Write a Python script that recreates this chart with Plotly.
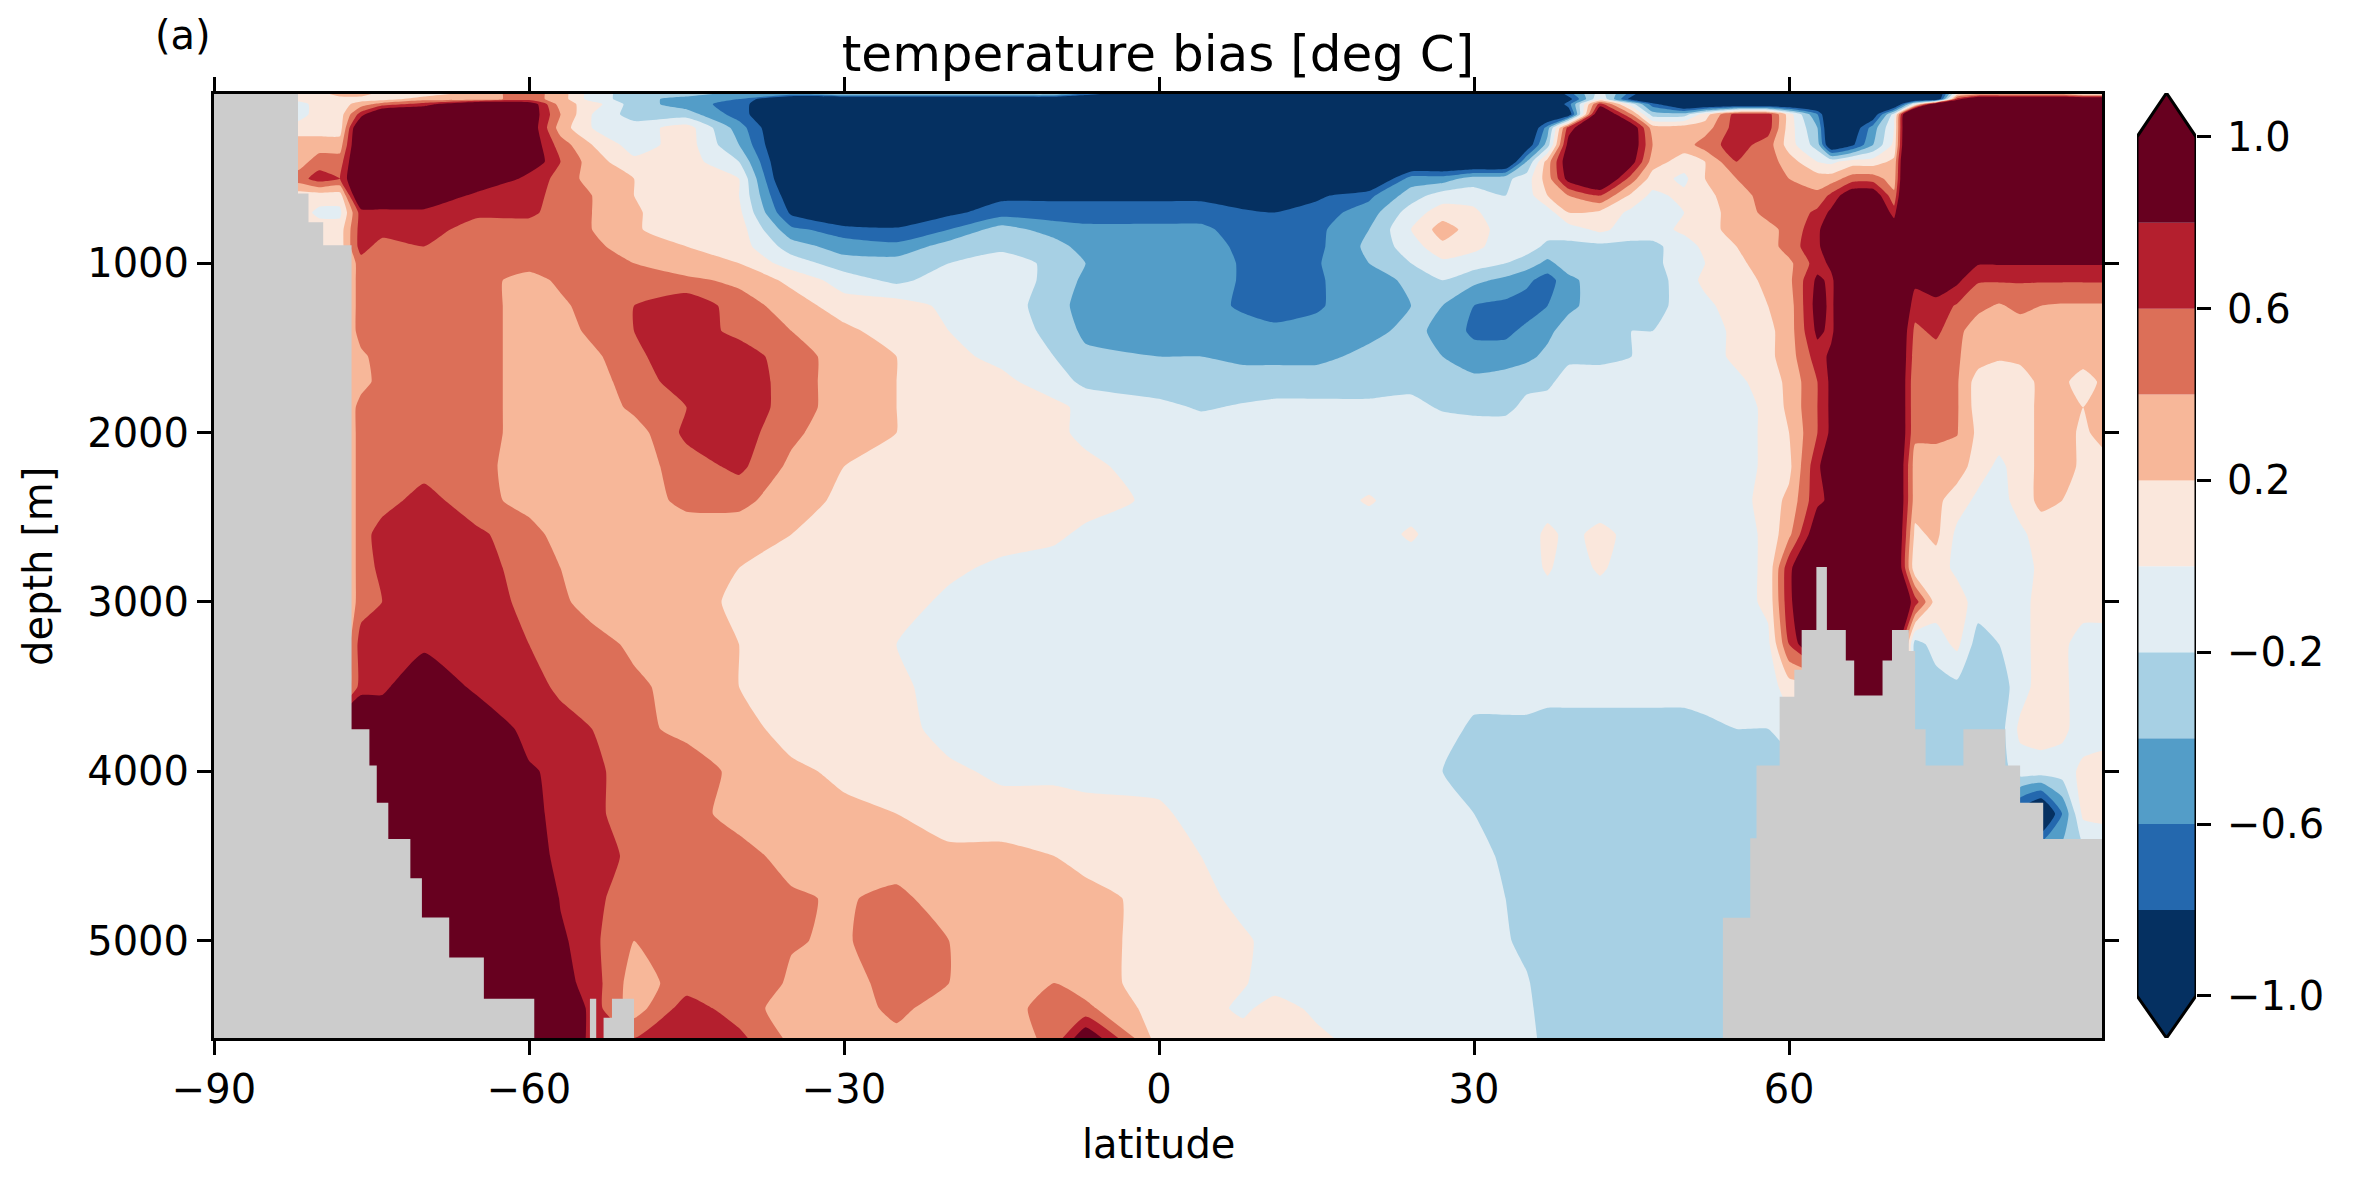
import plotly.graph_objects as go

# values: rows are depths, columns are latitudes
latitudes = [-90, -82, -80, -78, -76, -74, -70,
             -65, -60, -57, -54, -50,
             -45, -40, -35, -30, -25,
             -20, -15, -10, -7, 0,
             4, 8, 11, 15, 20,
             24, 27, 30, 33, 35,
             37, 39, 42, 45, 47,
             50, 52, 55, 58, 60,
             62.7, 64, 66, 68, 70,
             72, 74, 76, 78, 80,
             82, 84, 86, 88, 90]

depths = [0, 30, 60, 120, 200, 300, 400, 500, 600, 700, 800, 900, 1000, 1100, 1250, 1400, 1550, 1700,
          1850, 2000, 2200, 2400, 2600, 2800, 3000, 3250, 3500, 3750, 4000, 4250, 4500, 4750, 5000, 5250, 5400, 5575]

bias = [
    # 0 m
    [.1, .1, .1, .3, .3, .1, .1, .3, .5, .3, -.1, -.3, -.3, -.5, -.5, -.3, -.3, -.3, -.3, -.3, -.7, -1.2,
     -1.2, -1.2, -1.2, -1.2, -1.2, -1.2, -1.2, -1.2, -1.2, -1.2, -1.2, -.7, -.1, -.7, -1.2,
     -1.2, -1.2, -1.2, -1.2, -1.2, -1.2, -1.2, -1.2, -1.2, -1.2, -1.2, -1.2, .1, .3, .3, .3, .3, .3, .1, .1],
    # 30 m
    [.1, .1, .1, .1, .1, .1, .3, .3, .5, .3, -.1, -.3, -.5, -.6, -1.2, -1.2, -1.2, -1.2, -1.2, -1.2, -1.2, -1.2,
     -1.2, -1.2, -1.2, -1.2, -1.2, -1.2, -1.2, -1.2, -1.2, -1.2, -1.2, -.9, 0, -.9, -1.2,
     -1.2, -1.2, -1.2, -1.2, -1.2, -1.2, -1.2, -1.2, -1.2, -1.2, -1.2, -1.2, .7, 1.2, 1.2, 1.2, 1.2, 1.2, 1.2, 1.2],
    # 60 m
    [.1, -.1, .1, .1, .3, .5, .7, 1.2, 1.0, .3, .1, -.3, -.5, -.7, -1.2, -1.2, -1.2, -1.2, -1.2, -1.2, -1.2, -1.2,
     -1.2, -1.2, -1.2, -1.2, -1.2, -1.2, -1.2, -1.2, -1.2, -1.2, -1.2, -.7, .7, -.1, -.7,
     -1.2, -1.2, -1.2, -1.2, -1.2, -1.2, -1.2, -1.2, -1.2, -1.2, 0, 1.2, 1.2, 1.2, 1.2, 1.2, 1.2, 1.2, 1.2, 1.2],
    # 120 m
    [.1, -.1, .1, .1, .7, 1.2, 1.2, 1.2, 1.0, .4, 0, -.3, -.3, -.7, -1.2, -1.2, -1.2, -1.2, -1.2, -1.2, -1.2, -1.2,
     -1.2, -1.2, -1.2, -1.2, -1.2, -1.2, -1.2, -1.2, -1.2, -1.2, -1.2, -1.0, 1.2, .4, -.3,
     -.3, .1, .7, .7, .1, -.6, -1.2, -1.2, -1.0, -.1, 2.0, 1.2, 1.2, 1.2, 1.2, 1.2, 1.2, 1.2, 1.2, 1.2],
    # 200 m
    [.1, .1, .1, .1, 1.2, 1.2, 1.2, 1.2, 1.0, .3, 0, -.1, .1, -.5, -1.2, -1.2, -1.2, -1.2, -1.2, -1.2, -1.2, -1.2,
     -1.2, -1.2, -1.2, -1.2, -1.2, -1.2, -1.2, -1.2, -1.2, -1.2, -.5, .7, 1.2, 1.0, .3,
     .3, .3, .7, .7, .1, -.4, -1.2, -1.0, -.5, 0, 2.0, 1.2, 1.2, 1.2, 1.2, 1.2, 1.2, 1.2, 1.2, 1.2],
    # 300 m
    [.3, .3, .3, .3, 1.2, 1.2, 1.2, 1.2, 1.0, .5, .2, -.1, .1, -.4, -1.2, -1.2, -1.2, -1.2, -1.2, -1.2, -1.2, -1.2,
     -1.2, -1.2, -1.2, -1.2, -1.2, -1.2, -1.2, -1.2, -1.2, -1.0, -.3, .9, 1.2, 1.0, .4,
     .3, .5, .7, .5, .1, -.3, -1.1, -.85, -.4, .05, 2.0, 1.2, 1.2, 1.2, 1.2, 1.2, 1.2, 1.2, 1.2, 1.2],
    # 400 m
    [.3, .3, .5, .5, 1.2, 1.2, 1.2, 1.2, 1.0, .6, .3, .05, .1, -.2, -1.2, -1.2, -1.2, -1.2, -1.2, -1.2, -1.2, -1.2,
     -1.2, -1.2, -1.2, -1.2, -1.2, -1.2, -1.2, -1.2, -1.2, -.4, .3, 1.0, 1.2, .9, .3,
     .1, .2, .6, .5, .3, 0, -.05, .1, .1, .25, 2.0, 1.2, 1.2, 1.2, 1.2, 1.2, 1.2, 1.2, 1.2, 1.2],
    # 500 m
    [.5, .5, .7, .6, 1.2, 1.2, 1.2, 1.2, .7, .55, .3, .2, .1, 0, -1.2, -1.2, -1.2, -1.2, -1.2, -1.2, -1.2, -1.2,
     -1.2, -1.2, -1.2, -1.2, -1.2, -.5, -.5, -.3, -.25, -.1, .3, .9, 1.2, .5, .1,
     -.05, .2, .4, .5, .4, .3, .3, .5, .5, .3, 2.0, 1.2, 1.2, 1.2, 1.2, 1.2, 1.2, 1.2, 1.2, 1.2],
    # 600 m
    [.1, .1, .1, .1, 1.2, 1.2, 1.2, .7, .7, .5, .4, .2, .1, 0, -1.0, -1.2, -1.2, -1.2, -.85, -.85, -.85, -.85,
     -.85, -1.0, -1.2, -.85, -.65, -.3, -.1, -.1, -.2, -.1, .2, .4, .6, .15, -.05,
     .05, .15, .3, .5, .5, .45, .65, 1.0, 1.0, .45, 2.0, 1.2, 1.2, 1.2, 1.2, 1.2, 1.2, 1.2, 1.2, 1.2],
    # 700 m
    [.1, .1, -.05, -.05, .7, .7, .7, .65, .65, .5, .4, .22, .1, .05, -.85, -1.2, -1.2, -.85, -.7, -.7, -.7, -.7,
     -.7, -.75, -.8, -.7, -.5, -.1, .1, .05, -.2, -.1, -.1, .2, .15, -.05, -.1,
     0, .1, .3, .45, .45, .65, .85, 1.2, 1.2, .7, 2.0, 1.2, 1.2, 1.2, 1.2, 1.2, 1.2, 1.2, 1.2, 1.2],
    # 800 m
    [.1, .1, .1, .1, .7, .7, .7, .5, .5, .5, .4, .22, .1, .1, -.55, -.7, -.75, -.6, -.3, -.5, -.55, -.55,
     -.55, -.7, -.7, -.65, -.4, 0, .3, .1, -.1, -.1, -.1, -.1, .05, -.1, -.1,
     .05, .15, .25, .35, .45, .75, 1.0, 1.2, 1.2, 1.0, 1.2, 1.2, 1.2, 1.2, 1.2, 1.2, 1.2, 1.2, 1.2, 1.2],
    # 900 m
    [.1, .1, .1, .1, .7, .5, .6, .5, .5, .5, .45, .3, .2, .1, -.3, -.5, -.55, -.3, -.25, -.3, -.5, -.5,
     -.5, -.65, -.7, -.65, -.35, -.1, .15, .05, -.1, -.1, -.25, -.25, -.25, -.25, -.25,
     -.1, .05, .2, .3, .5, .75, 1.0, 1.2, 1.2, 1.2, 1.2, 1.2, 1.2, 1.2, 1.2, 1.2, 1.2, 1.2, 1.2, 1.2],
    # 1000 m
    [.1, .1, .1, .1, .5, .5, .5, .5, .5, .5, .45, .4, .25, .2, -.1, -.3, -.3, -.2, -.1, -.25, -.4, -.5,
     -.5, -.62, -.7, -.62, -.4, -.2, -.05, -.1, -.2, -.3, -.45, -.3, -.3, -.3, -.25,
     -.1, 0, .15, .3, .35, .7, .85, 1.2, 1.2, 1.2, 1.2, 1.2, 1.2, .82, .82, .82, .82, .82, .82, .82],
    # 1100 m
    [.1, .1, .1, .1, .5, .5, .5, .5, .3, .45, .5, .5, .45, .35, .15, -.1, -.25, -.1, -.1, -.25, -.45, -.5,
     -.5, -.62, -.7, -.62, -.5, -.35, -.2, -.35, -.45, -.55, -.7, -.45, -.3, -.3, -.3,
     -.1, .05, .1, .25, .35, .85, .75, 1.2, 1.2, 1.2, .85, 1.0, .85, .62, .62, .62, .62, .62, .62, .62],
    # 1250 m
    [.1, .1, .1, .1, .5, .5, .5, .5, .3, .35, .5, .6, .75, .5, .3, .1, .1, -.05, -.1, -.3, -.5, -.55,
     -.55, -.62, -.7, -.62, -.5, -.4, -.4, -.6, -.65, -.7, -.6, -.45, -.3, -.3, -.3,
     -.1, -.05, .1, .2, .3, .9, .75, 1.2, 1.2, 1.2, .7, .7, .58, .45, .38, .45, .4, .38, .38, .38],
    # 1400 m
    [.1, .1, .1, .1, .5, .5, .5, .5, .3, .3, .45, .6, .7, .55, .4, .25, .1, 0, -.1, -.25, -.45, -.5,
     -.55, -.55, -.55, -.55, -.45, -.35, -.45, -.65, -.65, -.55, -.45, -.3, -.3, -.2, -.2,
     -.1, -.1, .05, .15, .3, .85, .75, 1.2, 1.2, 1.2, .55, .65, .45, .3, .3, .3, .3, .3, .3, .3],
    # 1550 m
    [.1, .1, .1, .1, .35, .5, .5, .5, .3, .25, .35, .55, .75, .7, .5, .3, .2, .05, -.05, -.2, -.35, -.4,
     -.4, -.45, -.45, -.45, -.35, -.3, -.4, -.5, -.5, -.45, -.35, -.25, -.25, -.2, -.1,
     -.05, -.1, .05, .15, .3, .7, .85, 1.2, 1.2, 1.2, .5, .5, .42, .3, .22, .25, .3, .3, .3, .3],
    # 1700 m
    [.1, .1, .1, .1, .3, .5, .5, .5, .3, .25, .3, .5, .7, .75, .5, .3, .2, .1, .05, -.1, -.25, -.3,
     -.3, -.3, -.3, -.3, -.3, -.25, -.3, -.35, -.3, -.25, -.25, -.1, -.1, -.1, -.1,
     -.1, -.1, -.05, .1, .25, .6, .85, 1.2, 1.2, 1.2, .45, .5, .42, .1, .1, .1, .25, .25, .1, .25],
    # 1850 m
    [.1, .1, .1, .1, .5, .5, .5, .5, .3, .25, .25, .45, .6, .75, .5, .3, .2, .1, .1, .05, -.05, -.15,
     -.22, -.18, -.15, -.15, -.15, -.15, -.22, -.25, -.25, -.15, -.1, -.1, -.1, -.1, -.1,
     -.1, -.1, -.1, .05, .25, .6, .85, 1.2, 1.2, 1.2, .45, .45, .42, .1, .05, .1, .25, .2, .2, .25],
    # 2000 m
    [.1, .1, .1, .1, .5, .5, .5, .5, .3, .3, .25, .3, .65, .7, .45, .25, .2, .1, .1, .05, -.05, -.1,
     -.1, -.1, -.1, -.1, -.1, -.1, -.1, -.1, -.1, -.1, -.1, -.1, -.1, -.1, -.1,
     -.1, -.1, -.1, .05, .2, .6, .85, 1.2, 1.2, 1.2, .45, .45, .41, .15, .1, .1, .25, .3, .15, .3],
    # 2200 m
    [.1, .1, .1, .1, .5, .5, .5, .5, .25, .3, .3, .3, .5, .65, .35, .2, .1, .1, .1, .05, .05, -.1,
     -.1, -.1, -.1, -.1, -.1, -.1, -.1, -.1, -.1, -.1, -.1, -.1, -.1, -.1, -.1,
     -.1, -.1, -.1, .05, .15, .75, 1.0, 1.2, 1.2, 1.2, .3, .3, .3, .1, -.05, .1, .25, .3, .15, .1],
    # 2400 m
    [.1, .1, .1, .1, .5, .5, .7, .45, .35, .3, .3, .3, .45, .45, .3, .15, .1, .1, .1, .1, .1, -.05,
     -.1, -.1, -.1, -.1, .02, -.1, -.1, -.1, -.1, -.1, -.1, -.1, -.1, -.1, -.1,
     -.1, -.1, -.1, .1, .25, .75, .85, 1.2, 1.2, 1.2, .3, .25, .1, -.05, -.1, .1, .25, .2, .1, .1],
    # 2600 m
    [.1, .1, .1, .1, .5, .7, .7, .65, .45, .35, .3, .3, .3, .3, .2, .1, .1, .1, .1, .05, -.05, -.1,
     -.1, -.1, -.1, -.1, -.1, .03, -.1, -.1, -.1, -.1, .05, -.05, .05, -.05, -.1,
     -.1, -.1, -.1, .05, .35, 1.0, .9, 1.2, 1.2, 1.2, .15, .25, -.05, -.1, -.1, -.05, .1, .1, .1, .1],
    # 2800 m
    [.1, .1, .1, .1, .5, .65, .7, .7, .5, .4, .3, .3, .3, .2, .1, .1, .1, .05, -.05, -.1, -.1, -.1,
     -.1, -.1, -.1, -.1, -.1, -.1, -.1, -.1, -.1, -.1, .03, -.1, .03, -.1, -.1,
     -.1, -.1, -.1, .05, .75, 1.2, 1.2, 1.2, 1.2, 1.2, .05, .1, -.05, -.1, -.1, -.1, .05, .1, .1, .1],
    # 3000 m
    [.1, .1, .1, .1, .5, .6, .7, .7, .55, .45, .3, .3, .3, .15, .1, .1, .1, -.05, -.1, -.1, -.1, -.1,
     -.1, -.1, -.1, -.1, -.1, -.1, -.1, -.1, -.1, -.1, -.1, -.1, -.1, -.1, -.1,
     -.1, -.1, -.1, .05, .75, 1.2, 1.2, 1.2, 1.2, 1.2, .7, .1, .1, -.1, -.1, -.1, .1, .1, .1, .1],
    # 3250 m
    [.1, .1, .1, .1, .7, .7, .7, .7, .6, .5, .5, .35, .3, .2, .1, .1, 0, -.1, -.1, -.1, -.1, -.1,
     -.1, -.1, -.1, -.1, -.1, -.1, -.1, -.1, -.1, -.1, -.1, -.1, -.1, -.1, -.1,
     -.1, -.1, -.1, -.05, .6, 1.2, 1.2, 1.2, 1.2, 1.2, -.3, -.1, .05, -.3, -.2, -.1, .1, .05, -.1, -.1],
    # 3500 m
    [.1, .1, .1, .1, .7, .7, 1.2, .7, .7, .55, .5, .45, .3, .2, .1, .1, .05, -.1, -.1, -.1, -.1, -.1,
     -.1, -.1, -.1, -.1, -.1, -.1, -.1, -.1, -.1, -.1, -.1, -.1, -.1, -.1, -.1,
     -.1, -.1, -.1, -.1, .1, .1, 1.2, 1.2, 1.2, 1.2, -.3, -.3, -.25, -.3, -.3, -.1, .1, .05, -.1, -.1],
    # 3750 m
    [1.2, 1.2, 1.2, 1.2, 1.2, 1.2, 1.2, 1.2, .65, .7, .6, .45, .35, .3, .1, .1, .1, -.1, -.1, -.1, -.1, -.1,
     -.1, -.1, -.1, -.1, -.1, -.1, -.1, -.25, -.25, -.25, -.3, -.3, -.3, -.3, -.3,
     -.3, -.25, -.2, -.2, -.1, -.1, 1.0, 1.2, 1.2, -.1, -.3, -.3, -.3, -.3, -.3, .05, .1, .05, -.1, -.1],
    # 4000 m
    [1.2, 1.2, 1.2, 1.2, 1.2, 1.2, 1.2, 1.2, .85, .7, .65, .5, .5, .35, .25, .15, .1, .05, -.05, -.05, -.1, -.1,
     -.1, -.1, -.1, -.1, -.1, -.1, -.2, -.3, -.3, -.3, -.3, -.3, -.3, -.3, -.3,
     -.3, -.3, -.3, -.3, -.3, -.3, -.3, -.3, -.3, -.3, -.3, -.3, -.3, -.3, -.3, -.1, -.1, -.1, .05, .1],
    # 4250 m
    [1.2, 1.2, 1.2, 1.2, 1.2, .9, 1.2, 1.2, .9, .7, .65, .5, .45, .35, .3, .25, .2, .1, .1, .1, .1, .05,
     -.1, -.1, -.1, -.1, -.1, -.1, -.1, -.2, -.3, -.3, -.3, -.3, -.3, -.3, -.3,
     -.3, -.3, -.3, -.3, -.3, -.3, -.3, -.3, -.3, -.3, -.3, -.3, -.3, -.3, -.3, -.9, -1.2, -.6, .05, .1],
    # 4500 m
    [1.2, 1.2, 1.2, 1.2, 1.2, 1.2, 1.2, 1.2, 1.0, .7, .7, .55, .5, .45, .35, .3, .3, .25, .25, .2, .1, .1,
     0, -.1, -.1, -.1, -.1, -.1, -.1, -.1, -.25, -.3, -.3, -.3, -.3, -.3, -.3,
     -.3, -.3, -.3, -.3, -.3, -.3, -.3, -.3, -.3, -.3, -.3, -.3, -.3, -.3, -.3, -.3, -.3, -.3, -.3, -.3],
    # 4750 m
    [1.2, 1.2, 1.2, 1.2, 1.2, 1.2, 1.2, 1.2, 1.2, .78, .65, .5, .5, .5, .42, .38, .45, .3, .3, .3, .3, .1,
     .1, -.1, -.1, -.1, -.1, -.1, -.1, -.15, -.2, -.3, -.3, -.3, -.3, -.3, -.3,
     -.3, -.3, -.3, -.3, -.3, -.3, -.3, -.3, -.3, -.3, -.3, -.3, -.3, -.3, -.3, -.3, -.3, -.3, -.3, -.3],
    # 5000 m
    [1.2, 1.2, 1.2, 1.2, 1.2, 1.2, 1.2, 1.2, 1.2, .85, .65, .4, .5, .5, .41, .38, .5, .4, .3, .3, .3, .1,
     .1, .05, -.1, -.1, -.1, -.1, -.1, -.1, -.18, -.25, -.3, -.3, -.3, -.3, -.3,
     -.3, -.3, -.3, -.3, -.3, -.3, -.3, -.3, -.3, -.3, -.3, -.3, -.3, -.3, -.3, -.3, -.3, -.3, -.3, -.3],
    # 5250 m
    [1.2, 1.2, 1.2, 1.2, 1.2, 1.2, 1.2, 1.2, 1.2, .9, .7, .3, .5, .5, .38, .3, .5, .4, .3, .4, .3, .1,
     .1, .02, -.1, -.1, -.1, -.1, -.1, -.1, -.1, -.18, -.3, -.3, -.3, -.3, -.3,
     -.3, -.3, -.3, -.3, -.3, -.3, -.3, -.3, -.3, -.3, -.3, -.3, -.3, -.3, -.3, -.3, -.3, -.3, -.3, -.3],
    # 5400 m
    [1.2, 1.2, 1.2, 1.2, 1.2, 1.2, 1.2, 1.2, 1.2, 1.2, .7, .3, .7, .5, .3, .3, .45, .3, .3, .5, .45, .1,
     .1, -.05, .1, -.05, -.1, -.1, -.1, -.1, -.1, -.15, -.3, -.3, -.3, -.3, -.3,
     -.3, -.3, -.3, -.3, -.3, -.3, -.3, -.3, -.3, -.3, -.3, -.3, -.3, -.3, -.3, -.3, -.3, -.3, -.3, -.3],
    # 5575 m
    [1.2, 1.2, 1.2, 1.2, 1.2, 1.2, 1.2, 1.2, 1.2, 1.2, .7, .6, .7, .65, .35, .3, .35, .3, .3, .45, 1.0, .1,
     .1, .1, .1, .05, -.1, -.1, -.1, -.1, -.1, -.1, -.3, -.3, -.3, -.3, -.3,
     -.3, -.3, -.3, -.3, -.3, -.3, -.3, -.3, -.3, -.3, -.3, -.3, -.3, -.3, -.3, -.3, -.3, -.3, -.3, -.3],
]

# ocean floor: depth of the bottom from this latitude up to the next one
floor_lat = [-90, -82, -81, -79.6, -76.9, -75.2, -74.5, -73.4, -71.3, -70.2, -67.6, -64.3, -59.5,
             -54.2, -53.6, -52.9, -52.1, -50, 53.7, 56.3, 56.9, 59.1, 60.5, 61.2, 62.6, 63.6,
             65.4, 66.2, 68.9, 69.8, 71.4, 72, 73, 76.6, 80.6, 82, 84.2, 90]
floor_depth = [0, 588, 758, 893, 3752, 3966, 4185, 4400, 4632, 4864, 5100, 5343, 5575,
               5343, 5575, 5455, 5343, 5575, 4865, 4395, 3966, 3560, 3400, 3165, 2794, 3165,
               3345, 3553, 3345, 3165, 3290, 3752, 3966, 3752, 3966, 4185, 4400, 4400]

levels = [-1.0, -0.8, -0.6, -0.4, -0.2, 0.0, 0.2, 0.4, 0.6, 0.8, 1.0]
band_colors = ['#053061', '#2468ae', '#539dc8', '#a7d0e4', '#e2edf3',
               '#fae7dc', '#f7b799', '#dc6f58', '#b41f2e', '#67001f']
lat_ticks = [-90, -60, -30, 0, 30, 60]
depth_ticks = [1000, 2000, 3000, 4000, 5000]
cbar_ticks = [-1.0, -0.6, -0.2, 0.2, 0.6, 1.0]

W, H = 2362, 1181
FONT = 'DejaVu Sans'
LAND = '#cccccc'

# stepped colour scale so every band gets one flat colour
colorscale = []
for i, c in enumerate(band_colors):
    colorscale.append([i / 10, c])
    colorscale.append([(i + 1) / 10, c])

fig = go.Figure()

fig.add_trace(go.Contour(
    x=latitudes, y=depths, z=bias,
    autocontour=False, zauto=False, zmin=-1, zmax=1,
    contours=dict(start=-0.8, end=0.8, size=0.2, coloring='fill', showlines=False),
    line=dict(width=0, smoothing=0.5), colorscale=colorscale, showscale=False, hoverinfo='skip',
))

# land goes on top of the field as a stepped polygon
fig.add_trace(go.Scatter(
    x=floor_lat + [90, -90], y=floor_depth + [5575, 5575],
    mode='lines', line=dict(shape='hv', width=0, color=LAND),
    fill='toself', fillcolor=LAND, hoverinfo='skip', showlegend=False,
))

# colour bar with the extend triangles, on its own axes
for i, c in enumerate(band_colors):
    lo, hi = levels[i], levels[i + 1]
    if i == 0:
        xs, ys = [0, 1, 1, 0.5, 0, 0], [hi, hi, lo, -1.098, lo, hi]
    elif i == 9:
        xs, ys = [0, 1, 1, 0.5, 0, 0], [lo, lo, hi, 1.102, hi, lo]
    else:
        xs, ys = [0, 1, 1, 0, 0], [lo, lo, hi, hi, lo]
    fig.add_trace(go.Scatter(x=xs, y=ys, xaxis='x2', yaxis='y2', mode='lines', line=dict(width=0, color=c),
                             fill='toself', fillcolor=c, hoverinfo='skip', showlegend=False))
fig.add_trace(go.Scatter(x=[0, 0.5, 1, 1, 0.5, 0, 0], y=[1.0, 1.102, 1.0, -1.0, -1.098, -1.0, 1.0],
                         xaxis='x2', yaxis='y2', mode='lines', line=dict(width=3, color='black'),
                         hoverinfo='skip', showlegend=False))

axis_style = dict(showgrid=False, zeroline=False, showline=True, linecolor='black', linewidth=3, mirror='ticks',
                  ticks='outside', ticklen=14, tickwidth=3, tickcolor='black', automargin=False,
                  tickfont=dict(family=FONT, size=40, color='black'))
label_font = dict(family=FONT, size=40, color='black')

fig.update_layout(
    width=W, height=H, autosize=False,
    margin=dict(l=0, r=0, t=0, b=0),
    paper_bgcolor='white', plot_bgcolor='white',
    font=dict(family=FONT, color='black'),
    showlegend=False,
    title=dict(text='temperature bias [deg C]', font=dict(family=FONT, size=50, color='black'),
               x=1158 / W, xanchor='center', xref='container', y=1 - 53 / H, yanchor='middle', yref='container'),
    xaxis=dict(domain=[214 / W, 2102 / W], range=[-90, 89.8], tickvals=lat_ticks, **axis_style),
    yaxis=dict(domain=[1 - 1038 / H, 1 - 94 / H], range=[5575, 0], tickvals=depth_ticks, **axis_style),
    xaxis2=dict(domain=[2137 / W, 2196 / W], range=[0, 1], visible=False, anchor='y2'),
    yaxis2=dict(domain=[1 - 1038 / H, 1 - 93 / H], range=[-1.098, 1.102], anchor='x2', side='right',
                tickvals=cbar_ticks, tickformat='.1f', showgrid=False, zeroline=False, showline=False,
                ticks='outside', ticklen=14, tickwidth=3, tickcolor='black', automargin=False,
                ticklabelstandoff=8, tickfont=dict(family=FONT, size=40, color='black')),
    annotations=[
        dict(text='(a)', x=183 / W, y=1 - 35 / H, xref='paper', yref='paper', showarrow=False,
             xanchor='center', yanchor='middle', font=dict(family=FONT, size=40, color='black')),
        dict(text='latitude', x=1158 / W, y=1 - 1144 / H, xref='paper', yref='paper', showarrow=False,
             xanchor='center', yanchor='middle', font=label_font),
        dict(text='depth [m]', x=38 / W, y=1 - 566 / H, xref='paper', yref='paper', showarrow=False,
             textangle=-90, xanchor='center', yanchor='middle', font=label_font),
    ],
)

fig.write_html('out.html', config=dict(displayModeBar=False),
               post_script="document.body.style.margin='0';document.body.style.overflow='hidden';")
